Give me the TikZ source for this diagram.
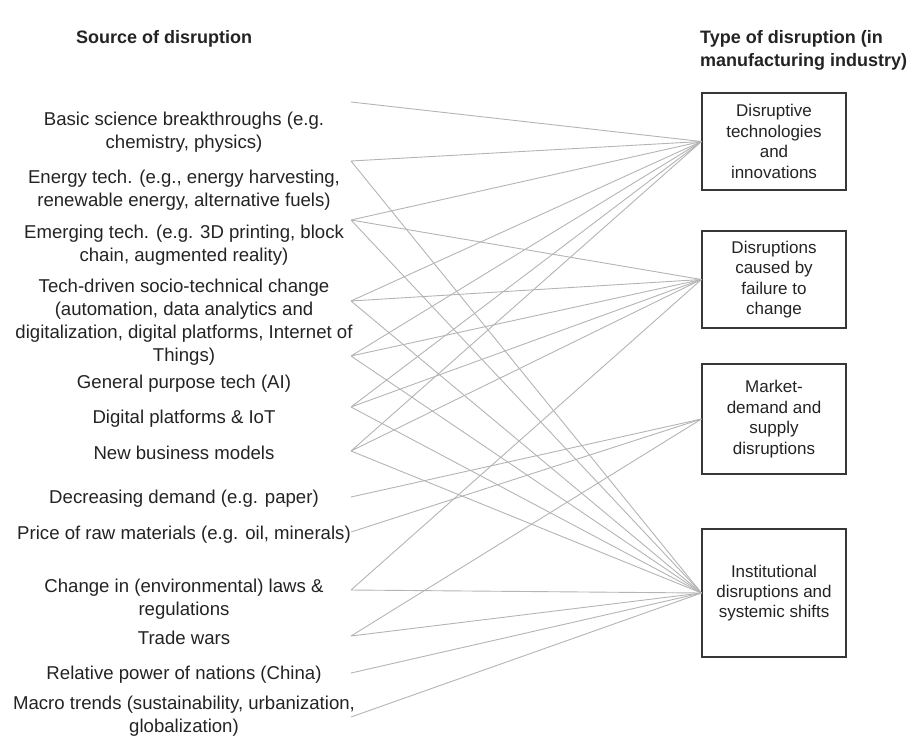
\documentclass[tikz,border=0pt]{standalone}
\usepackage{fontspec}
\setmainfont{Liberation Sans}

\definecolor{linkgray}{RGB}{180,180,180}
\definecolor{inkgray}{RGB}{35,35,35}
\definecolor{framegray}{RGB}{55,55,55}

\tikzset{
	source/.style={align=center, inner sep=0pt, text=inkgray, font=\fontsize{18.6}{23}\selectfont},
	kind/.style={draw=framegray, line width=1.1pt, align=center, text=inkgray, minimum width=144pt, inner sep=2pt, font=\fontsize{17}{20.4}\selectfont},
	heading/.style={align=left, inner sep=0pt, text=inkgray, font=\fontsize{18}{23}\selectfont\bfseries},
	link/.style={draw=linkgray, line width=0.9pt}
}

\begin{document}
\begin{tikzpicture}[x=1pt, y=-1pt]
			\useasboundingbox (0,0) rectangle (912,736);
			% headings
			\node[heading] (hsrc)  at (164,39) {Source of disruption};
			\node[heading, anchor=west] (htype) at (700,50.5) {Type of disruption (in\\manufacturing industry)};
			% sources of disruption
			\node[source] (l1)  at (184,132)   {Basic science breakthroughs (e.g.\\chemistry, physics)};
			\node[source] (l2)  at (184,190)   {Energy tech. (e.g., energy harvesting,\\renewable energy, alternative fuels)};
			\node[source] (l3)  at (184,245)   {Emerging tech. (e.g. 3D printing, block\\chain, augmented reality)};
			\node[source] (l4)  at (184,322.5) {Tech-driven socio-technical change\\(automation, data analytics and\\digitalization, digital platforms, Internet of\\Things)};
			\node[source] (l5)  at (184,383.5) {General purpose tech (AI)};
			\node[source] (l6)  at (184,418.5) {Digital platforms \& IoT};
			\node[source] (l7)  at (184,453)   {New business models};
			\node[source] (l8)  at (184,498.5) {Decreasing demand (e.g. paper)};
			\node[source] (l9)  at (184,534.5) {Price of raw materials (e.g. oil, minerals)};
			\node[source] (l10) at (184,599)   {Change in (environmental) laws \&\\regulations};
			\node[source] (l11) at (184,637.5) {Trade wars};
			\node[source] (l12) at (184,675)   {Relative power of nations (China)};
			\node[source] (l13) at (184,716)   {Macro trends (sustainability, urbanization,\\globalization)};
			% line starts
			\coordinate (s1)  at (351,102);
			\coordinate (s2)  at (351,161);
			\coordinate (s3)  at (351,220);
			\coordinate (s4)  at (351,301);
			\coordinate (s5)  at (351,356);
			\coordinate (s6)  at (351,407);
			\coordinate (s7)  at (351,451);
			\coordinate (s8)  at (351,497);
			\coordinate (s9)  at (351,532);
			\coordinate (s10) at (351,590);
			\coordinate (s11) at (351,636);
			\coordinate (s12) at (351,673);
			\coordinate (s13) at (351,717);
			% types of disruption
			\node[kind, minimum height=97pt]  (t1) at (774,141.5) {Disruptive\\technologies\\and\\innovations};
			\node[kind, minimum height=97pt]  (t2) at (774,279.5) {Disruptions\\caused by\\failure to\\change};
			\node[kind, minimum height=110pt] (t3) at (774,419)   {Market-\\demand and\\supply\\disruptions};
			\node[kind, minimum height=128pt] (t4) at (774,593)   {Institutional\\disruptions and\\systemic shifts};
			% links
			\draw[link] (s1)  -- (t1.west);
			\draw[link] (s2)  -- (t1.west)  (s2)  -- (t4.west);
			\draw[link] (s3)  -- (t1.west)  (s3)  -- (t2.west)  (s3) -- (t4.west);
			\draw[link] (s4)  -- (t1.west)  (s4)  -- (t2.west)  (s4) -- (t4.west);
			\draw[link] (s5)  -- (t1.west)  (s5)  -- (t2.west)  (s5) -- (t4.west);
			\draw[link] (s6)  -- (t1.west)  (s6)  -- (t2.west)  (s6) -- (t4.west);
			\draw[link] (s7)  -- (t1.west)  (s7)  -- (t2.west)  (s7) -- (t4.west);
			\draw[link] (s8)  -- (t3.west);
			\draw[link] (s9)  -- (t3.west);
			\draw[link] (s10) -- (t2.west)  (s10) -- (t4.west);
			\draw[link] (s11) -- (t3.west)  (s11) -- (t4.west);
			\draw[link] (s12) -- (t4.west);
			\draw[link] (s13) -- (t4.west);
		\end{tikzpicture}
\end{document}
